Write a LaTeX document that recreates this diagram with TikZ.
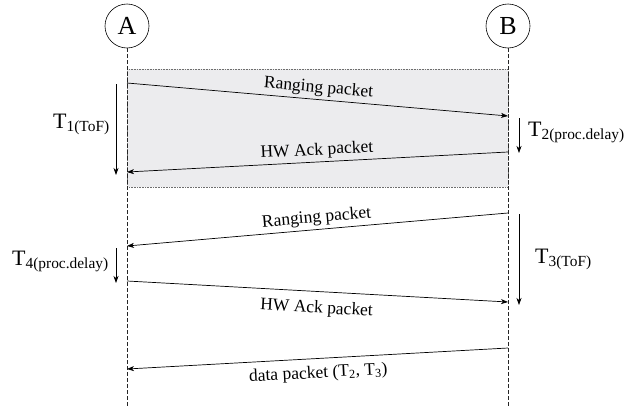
\documentclass[tikz,border=0pt]{standalone}
\usepackage{fontspec}
\setmainfont{Liberation Serif}
\usetikzlibrary{arrows.meta}
\definecolor{boxgray}{RGB}{236,236,238}
\definecolor{boxline}{RGB}{110,110,110}
\begin{document}
\begin{tikzpicture}[x=1pt,y=-1pt,
  actor/.style={draw,circle,minimum size=44pt,inner sep=0pt,line width=0.6pt,font=\fontsize{26}{30}\selectfont},
  life/.style={dash pattern=on 4pt off 2pt,line width=0.7pt,draw=black!85},
  msg/.style={-{Stealth[length=7pt,width=5pt,inset=2pt]},line width=0.7pt},
  lbl/.style={font=\fontsize{17.5}{20}\selectfont,sloped,inner sep=3pt},
  tlbl/.style={font=\fontsize{22}{26}\selectfont,inner sep=0pt,anchor=base west}
]
\useasboundingbox (0,0) rectangle (632,407);
% shaded exchange box
\draw[fill=boxgray,draw=boxline,dash pattern=on 0.8pt off 0.8pt,line width=0.6pt] (127,69) rectangle (508,187);
% actors and lifelines
\node[actor] (A) at (127,26) {A};
\node[actor] (B) at (508,26) {B};
\coordinate (Aend) at (127,407);
\coordinate (Bend) at (508,407);
\draw[life] (A.south) -- (Aend);
\draw[life] (B.south) -- (Bend);
% message end points
\coordinate (a1) at (127,83);  \coordinate (b1) at (508,116);
\coordinate (b2) at (508,152); \coordinate (a2) at (127,172);
\coordinate (b3) at (508,213); \coordinate (a3) at (127,246);
\coordinate (a4) at (127,281); \coordinate (b4) at (508,302);
\coordinate (b5) at (508,348); \coordinate (a5) at (127,369);
% messages
\draw[msg] (a1) -- node[lbl,above] {Ranging packet} (b1);
\draw[msg] (b2) -- node[lbl,above] {HW Ack packet} (a2);
\draw[msg] (b3) -- node[lbl,above] {Ranging packet} (a3);
\draw[msg] (a4) -- node[lbl,below,inner sep=9pt] {HW Ack packet} (b4);
\draw[msg] (b5) -- node[lbl,below,inner sep=7pt] {data packet (T\textsubscript{2}, T\textsubscript{3})} (a5);
% timing arrows
\coordinate (t1s) at (116,84);  \coordinate (t1e) at (116,175);
\coordinate (t2s) at (519,118); \coordinate (t2e) at (519,153);
\coordinate (t3s) at (519,214); \coordinate (t3e) at (519,305);
\coordinate (t4s) at (116,248); \coordinate (t4e) at (116,283);
\draw[msg] (t1s) -- (t1e);
\draw[msg] (t2s) -- (t2e);
\draw[msg] (t3s) -- (t3e);
\draw[msg] (t4s) -- (t4e);
\node[tlbl] (T1) at (53,128) {T\textsubscript{1(ToF)}};
\node[tlbl] (T2) at (528,136) {T\textsubscript{2(proc.delay)}};
\node[tlbl] (T3) at (535,263) {T\textsubscript{3(ToF)}};
\node[tlbl] (T4) at (12,265) {T\textsubscript{4(proc.delay)}};
\end{tikzpicture}
\end{document}
